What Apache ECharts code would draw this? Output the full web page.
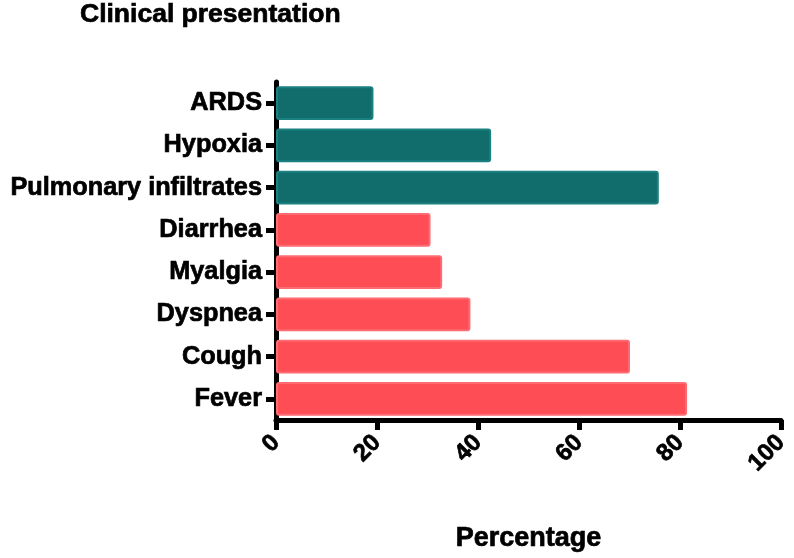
<!DOCTYPE html>
<html><head><meta charset="utf-8">
<script src="https://cdn.jsdelivr.net/npm/echarts@6/dist/echarts.min.js"></script>
<style>html,body{margin:0;padding:0;background:#fff}#c{width:794px;height:558px}</style>
</head><body><div id="c"></div>
<script>
// bottom-to-top order (ECharts category y axis)
const categories = ['Fever','Cough','Dyspnea','Myalgia','Diarrhea','Pulmonary infiltrates','Hypoxia','ARDS'];
const values = [81.4, 70.1, 38.5, 32.9, 30.6, 75.8, 42.6, 19.3];
const groups = ['symptom','symptom','symptom','symptom','symptom','finding','finding','finding'];
const xTicks = [0, 20, 40, 60, 80, 100];

const palette = {
  symptom: {color: '#ff4d56', border: '#ff6b72'},
  finding: {color: '#116c6c', border: '#1b8080'}
};
const font = '"Liberation Sans", Arial, Helvetica, sans-serif';
const heavy = {fontFamily: font, fontWeight: 'bold', color: '#000', textBorderColor: '#000', textBorderWidth: 0.7};

const chart = echarts.init(document.getElementById('c'));
chart.setOption({
  animation: false,
  backgroundColor: '#fff',
  title: {
    text: 'Clinical presentation', left: 80, top: 1, padding: 0,
    textStyle: Object.assign({fontSize: 26.5}, heavy)
  },
  grid: {left: 276, right: 13, top: 82, bottom: 138, containLabel: false},
  xAxis: {
    type: 'value', min: xTicks[0], max: xTicks[xTicks.length - 1], interval: 20,
    name: 'Percentage', nameLocation: 'middle', nameGap: 105,
    nameTextStyle: Object.assign({fontSize: 27}, heavy),
    axisLine: {show: true, lineStyle: {color: '#000', width: 5}},
    axisTick: {show: true, length: 10, lineStyle: {color: '#000', width: 5}},
    splitLine: {show: false},
    axisLabel: Object.assign({rotate: 45, margin: 19, fontSize: 24}, heavy)
  },
  yAxis: {
    type: 'category', data: categories,
    axisLine: {show: true, lineStyle: {color: '#000', width: 5}},
    axisTick: {show: true, alignWithLabel: true, length: 10, lineStyle: {color: '#000', width: 5}},
    axisLabel: Object.assign({margin: 14, fontSize: 25.3}, heavy)
  },
  series: [{
    type: 'bar',
    barCategoryGap: '20%',
    data: values.map((v, i) => ({
      value: v,
      itemStyle: {
        color: palette[groups[i]].color,
        borderColor: palette[groups[i]].border,
        borderWidth: 2,
        borderRadius: 2
      }
    }))
  }]
});
</script></body></html>
